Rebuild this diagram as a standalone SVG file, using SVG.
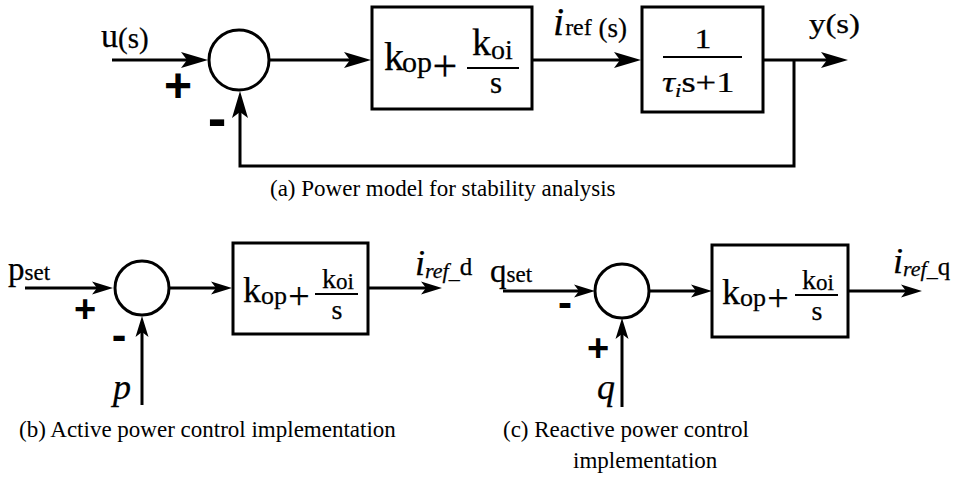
<svg xmlns="http://www.w3.org/2000/svg" width="961" height="477" viewBox="0 0 961 477">
<style>
.ln{fill:none;stroke:#000;stroke-width:3}
.bx{fill:#fff;stroke:#000;stroke-width:3}
.fr{stroke:#000;stroke-width:2}
.t{font-family:"Liberation Serif","Times New Roman",serif;fill:#000;stroke:#000;stroke-width:0.25}
.it{font-style:italic}
.sg{font-family:"Liberation Sans",Arial,sans-serif;font-weight:bold;fill:#000;text-anchor:middle}
.cap{font-family:"Liberation Serif","Times New Roman",serif;font-size:23px;fill:#000}
.mid{text-anchor:middle}
.aL{marker-end:url(#arrL)}
.aS{marker-end:url(#arrS)}
</style>
<defs>
<marker id="arrL" viewBox="-20 -9 32 18" refX="0" refY="0" markerWidth="32" markerHeight="18" orient="auto" markerUnits="userSpaceOnUse">
<path d="M10,0 L-17,-8 L-11,0 L-17,8 Z" fill="#000"/>
</marker>
<marker id="arrS" viewBox="-16 -8 26 16" refX="0" refY="0" markerWidth="26" markerHeight="16" orient="auto" markerUnits="userSpaceOnUse">
<path d="M8,0 L-13,-6.5 L-8,0 L-13,6.5 Z" fill="#000"/>
</marker>
</defs>
<rect width="961" height="477" fill="#fff"/>

<!-- (a) connectors -->
<g id="connectors-a">
<line class="ln aL" x1="112" y1="60" x2="198" y2="60"/>
<line class="ln aL" x1="269" y1="60" x2="361" y2="60"/>
<line class="ln aL" x1="532" y1="60" x2="631" y2="60"/>
<line class="ln aL" x1="763" y1="60" x2="838" y2="60"/>
<polyline class="ln aL" points="794,60 794,166 240,166 240,101"/>
</g>
<g id="sum-a">
<circle class="ln" cx="239" cy="60" r="30"/>
<text class="sg" x="178" y="102" font-size="48">+</text>
<text class="sg" x="217" y="137" font-size="56">-</text>
</g>
<g id="label-u">
<text class="t" x="101" y="47"><tspan font-size="34">u</tspan><tspan font-size="29" dy="1">(s)</tspan></text>
</g>
<g id="pi-a">
<rect class="bx" x="372" y="7" width="160" height="102"/>
<text class="t" x="384" y="70" font-size="40">k</text>
<text class="t" x="402" y="72" font-size="30">op</text>
<text class="t mid" x="445" y="81" font-size="44">+</text>
<line class="fr" x1="467" y1="68" x2="519" y2="68"/>
<text class="t" x="472" y="55" font-size="38">k</text>
<text class="t" x="491" y="59" font-size="28">oi</text>
<text class="t mid" x="496" y="93" font-size="31">s</text>
</g>
<g id="label-iref">
<text class="t" x="553" y="35"><tspan class="it" font-size="40">i</tspan><tspan font-size="24" dx="1">ref</tspan><tspan font-size="27" dy="2"> (s)</tspan></text>
</g>
<g id="plant">
<rect class="bx" x="642" y="7" width="121" height="105"/>
<text class="t mid" transform="translate(703,48) scale(1.25,1)" font-size="27">1</text>
<line class="fr" x1="663" y1="57" x2="742" y2="57"/>
<text class="t" transform="translate(662,92) scale(1.26,1)" font-size="29"><tspan class="it">τ</tspan><tspan class="it" font-size="18" dy="5">i</tspan><tspan dy="-5">s+1</tspan></text>
</g>
<g id="label-y">
<text class="t" x="809" y="33" font-size="27" textLength="51" lengthAdjust="spacingAndGlyphs">y(s)</text>
</g>
<text class="cap" x="270" y="196">(a) Power model for stability analysis</text>

<!-- (b) -->
<g id="connectors-b">
<line class="ln aS" x1="25" y1="288" x2="105" y2="288"/>
<line class="ln aS" x1="169" y1="288" x2="224" y2="288"/>
<line class="ln aS" x1="368" y1="288" x2="434" y2="288"/>
<line class="ln aS" x1="142" y1="405" x2="142" y2="324"/>
</g>
<g id="sum-b">
<circle class="ln" cx="142" cy="288" r="27"/>
<text class="sg" x="85" y="322" font-size="38">+</text>
<text class="sg" x="119" y="350" font-size="44">-</text>
</g>
<g id="label-pset">
<text class="t" x="8" y="280"><tspan font-size="33">p</tspan><tspan font-size="23">set</tspan></text>
</g>
<g id="label-p">
<text class="t it" x="113" y="399" font-size="36">p</text>
</g>
<g id="pi-b">
<rect class="bx" x="233" y="243" width="135" height="91"/>
<text class="t" x="243" y="302" font-size="36">k</text>
<text class="t" x="261" y="304" font-size="26">op</text>
<text class="t mid" x="299" y="309" font-size="38">+</text>
<line class="fr" x1="315" y1="294" x2="358" y2="294"/>
<text class="t" x="322" y="288" font-size="28">k</text>
<text class="t" x="336" y="289" font-size="23">oi</text>
<text class="t mid" x="337" y="319" font-size="28">s</text>
</g>
<g id="label-irefd">
<text class="t" x="415" y="275"><tspan class="it" font-size="36">i</tspan><tspan class="it" font-size="22" dy="3">ref_</tspan><tspan font-size="25" dy="-3">d</tspan></text>
</g>
<text class="cap" x="19" y="437">(b) Active power control implementation</text>

<!-- (c) -->
<g id="connectors-c">
<line class="ln aS" x1="503" y1="291" x2="587" y2="291"/>
<line class="ln aS" x1="649" y1="291" x2="704" y2="291"/>
<line class="ln aS" x1="848" y1="291" x2="914" y2="291"/>
<line class="ln aS" x1="622" y1="407" x2="622" y2="326"/>
</g>
<g id="sum-c">
<circle class="ln" cx="622" cy="291" r="27"/>
<text class="sg" x="565" y="317" font-size="42">-</text>
<text class="sg" x="598" y="361" font-size="38">+</text>
</g>
<g id="label-qset">
<text class="t" x="490" y="282"><tspan font-size="33">q</tspan><tspan font-size="23">set</tspan></text>
</g>
<g id="label-q">
<text class="t it" x="597" y="399" font-size="36">q</text>
</g>
<g id="pi-c">
<rect class="bx" x="712" y="245" width="136" height="92"/>
<text class="t" x="722" y="304" font-size="36">k</text>
<text class="t" x="740" y="306" font-size="26">op</text>
<text class="t mid" x="778" y="311" font-size="38">+</text>
<line class="fr" x1="795" y1="295" x2="838" y2="295"/>
<text class="t" x="802" y="289" font-size="28">k</text>
<text class="t" x="816" y="290" font-size="23">oi</text>
<text class="t mid" x="817" y="320" font-size="28">s</text>
</g>
<g id="label-irefq">
<text class="t" x="893" y="273"><tspan class="it" font-size="36">i</tspan><tspan class="it" font-size="22" dy="3">ref_</tspan><tspan font-size="25" dy="-1">q</tspan></text>
</g>
<text class="cap" x="503" y="437">(c) Reactive power control</text>
<text class="cap" x="573" y="468">implementation</text>
</svg>
